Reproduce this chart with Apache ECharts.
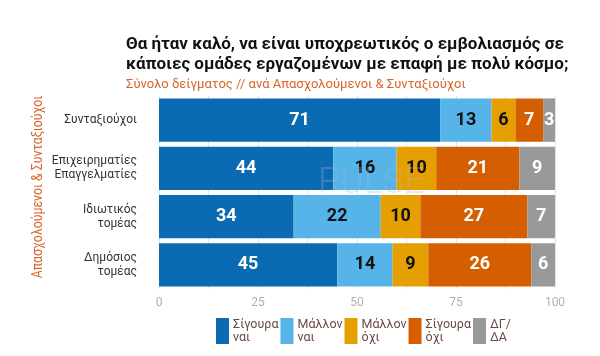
<!DOCTYPE html>
<html><head><meta charset="utf-8">
<script src="https://cdn.jsdelivr.net/npm/echarts@6/dist/echarts.min.js"></script>
<style>html,body{margin:0;padding:0;background:#fff}#c{width:600px;height:356px}</style>
</head><body><div id="c"></div>
<script>
const categories = ['Συνταξιούχοι', 'Επιχειρηματίες\nΕπαγγελματίες', 'Ιδιωτικός\nτομέας', 'Δημόσιος\nτομέας'];
const seriesNames = ['Σίγουρα\nναι', 'Μάλλον\nναι', 'Μάλλον\nόχι', 'Σίγουρα\nόχι', 'ΔΓ/\nΔΑ'];
const sigouraNai = [71, 44, 34, 45];
const mallonNai = [13, 16, 22, 14];
const mallonOxi = [6, 10, 10, 9];
const sigouraOxi = [7, 21, 27, 26];
const dgda = [3, 9, 7, 6];
const xTicks = [0, 25, 50, 75, 100];
const colors = ['#0a6bb3', '#56b4e9', '#e69f00', '#d55e00', '#999999'];
const labelColors = ['#ffffff', '#111111', '#111111', '#ffffff', '#ffffff'];
const allData = [sigouraNai, mallonNai, mallonOxi, sigouraOxi, dgda];

const chart = echarts.init(document.getElementById('c'), null, {renderer: 'canvas'});
const font = 'Roboto, "Noto Sans", sans-serif';
chart.setOption({
  animation: false,
  textStyle: {fontFamily: font},
  title: [{
    text: 'Θα ήταν καλό, να είναι υποχρεωτικός ο εμβολιασμός σε\nκάποιες ομάδες εργαζομένων με επαφή με πολύ κόσμο;',
    left: 121, top: 30,
    textStyle: {fontSize: 17, fontWeight: 'bold', color: '#111', lineHeight: 20, fontFamily: font}
  }, {
    text: 'Σύνολο δείγματος // ανά Απασχολούμενοι & Συνταξιούχοι',
    left: 121, top: 73,
    textStyle: {fontSize: 13, fontWeight: 'normal', color: '#d9652b', fontFamily: font}
  }],
  graphic: [{
    type: 'text', x: 38, y: 187, rotation: Math.PI/2, scaleX: 0.82,
    style: {text: 'Απασχολούμενοι & Συνταξιούχοι', fill: '#d9652b',
      fontSize: 15, fontFamily: font, align: 'center', verticalAlign: 'middle'}
  }, {
    type: 'text', x: 318, y: 166, z: 100,
    style: {text: 'PULSE', fill: 'rgba(170,185,200,0.3)', fontSize: 36, fontWeight: 300, fontFamily: font}
  }],
  grid: {left: 159, right: 45, top: 96, bottom: 67},
  legend: {
    bottom: 7, left: 211,
    itemWidth: 13, itemHeight: 26, itemGap: 2,
    icon: 'rect',
    data: seriesNames,
    textStyle: {fontSize: 12.5, color: '#6a4a42', lineHeight: 13, width: 45, padding: [0,0,0,-1]}
  },
  xAxis: {
    type: 'value', min: 0, max: 100, interval: 12.5,
    axisLine: {show: false}, axisTick: {show: false},
    splitLine: {lineStyle: {color: '#e3e3e3'}},
    axisLabel: {color: '#b0b0b0', fontSize: 12,
      formatter: v => xTicks.includes(v) ? String(v) : ''}
  },
  yAxis: {
    type: 'category', data: categories, inverse: true,
    axisLine: {show: false}, axisTick: {show: false},
    axisLabel: {color: '#333', fontSize: 12, lineHeight: 14, margin: 22, align: 'right'}
  },
  series: allData.map((d, i) => ({
    name: seriesNames[i], type: 'bar', stack: 'a',
    data: d, barCategoryGap: '10%',
    itemStyle: {color: colors[i]},
    label: {show: true, position: 'inside', color: labelColors[i],
      fontSize: 18, fontWeight: 'bold', fontFamily: font}
  }))
});
</script></body></html>
